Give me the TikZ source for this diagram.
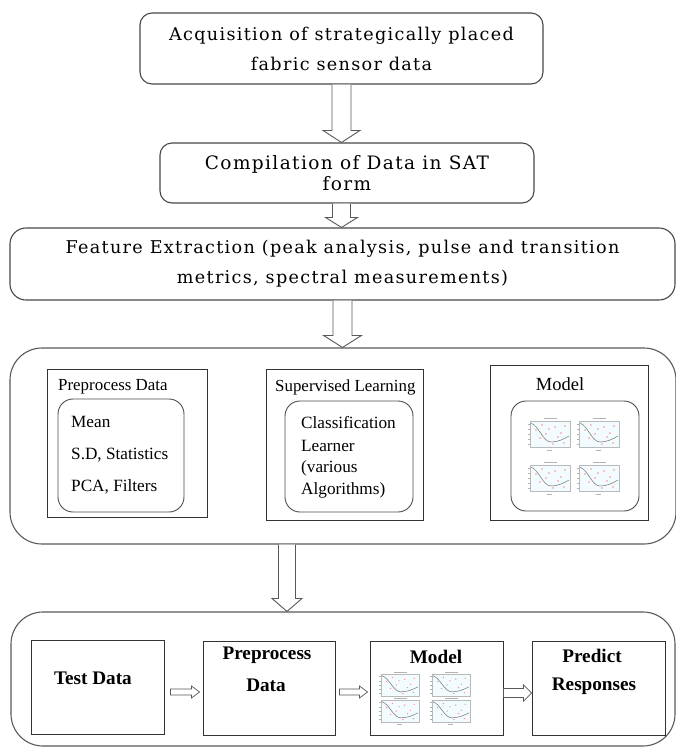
\documentclass[tikz,border=0pt]{standalone}
\usepackage{fontspec}
\setmainfont{Liberation Serif}
\newfontfamily\dvs[LetterSpace=7.5]{DejaVu Serif}
\usetikzlibrary{calc}
\tikzset{
  frame/.style={draw=black!72, line width=1.1pt},
  rbox/.style={frame, rounded corners=12pt, inner sep=0pt},
  bigbox/.style={draw=black!65, line width=1.1pt, rounded corners=32pt, inner sep=0pt},
  sbox/.style={draw=black!80, line width=0.9pt, inner sep=0pt},
  ibox/.style={draw=black!70, line width=0.9pt, rounded corners=15pt, inner sep=0pt},
  toptext/.style={font=\dvs\fontsize{17.6}{30}\selectfont, align=center},
  lbl/.style={font=\fontsize{16.9}{19}\selectfont, inner sep=0pt},
  item/.style={font=\fontsize{17.2}{20}\selectfont, inner sep=0pt, anchor=west},
  btext/.style={font=\bfseries\fontsize{19.2}{22}\selectfont, inner sep=0pt},
  arr/.style={draw=black!65, line width=0.9pt, fill=white, line join=miter},
  varrow/.style n args={3}{to path={let \p1=(\tikztostart),\p2=(\tikztotarget) in
    (\x1-#1,\y1) -- (\x1-#1,\y2+#3) -- (\x1-#2,\y2+#3) -- (\x1,\y2) -- (\x1+#2,\y2+#3) -- (\x1+#1,\y2+#3) -- (\x1+#1,\y1)}},
  harrow/.style n args={3}{to path={let \p1=(\tikztostart),\p2=(\tikztotarget) in
    (\x1,\y1+#1) -- (\x2-#3,\y1+#1) -- (\x2-#3,\y1+#2) -- (\x2,\y1) -- (\x2-#3,\y1-#2) -- (\x2-#3,\y1-#1) -- (\x1,\y1-#1) -- cycle}},
  miniplot/.pic={
    \fill[cyan!5] (0,0) rectangle (40,26);
    \draw[gray!55, line width=0.4pt] (0,0) rectangle (40,26);
    \draw[gray!60, line width=0.7pt] (14,-2.5) -- (27,-2.5);
    \foreach \t in {3,8,13,18,23} \draw[gray!60, line width=0.3pt] (-2,\t) -- (0,\t);
    \draw[gray!60, line width=0.6pt] (17,29) -- (22,29);
    \foreach \p in {(6,9),(12,4),(19,8),(25,6),(31,12),(35,5),(10,17),(28,16),(34,22),(16,13),(23,23)} \fill[red!45] \p circle (0.8);
    \draw[black!55, line width=0.5pt] (1,2) .. controls (9,5) and (13,21) .. (21,21) .. controls (28,21) and (34,18) .. (39,15);
  }
}
\begin{document}
\begin{tikzpicture}[x=1pt,y=-1pt]
\useasboundingbox (0,0) rectangle (676,748);

% top chain
\node[rbox, toptext, minimum width=403, minimum height=71] (b1) at (341.5,48.5)
  {Acquisition of strategically placed\\fabric sensor data};
\node[rbox, font=\dvs\fontsize{18.5}{21}\selectfont, align=center, minimum width=374, minimum height=60] (b2) at (347,173)
  {Compilation of Data in SAT\\form};
\node[rbox, toptext, rounded corners=16pt, minimum width=665, minimum height=72] (b3) at (342.5,264)
  {Feature Extraction (peak analysis, pulse and transition\\metrics, spectral measurements)};

% training block
\node[bigbox, minimum width=666, minimum height=196] (big) at (343,446) {};
\node[sbox, minimum width=160, minimum height=148] (ppo) at (127,443) {};
\node[ibox, minimum width=126, minimum height=113] (ppi) at (121,455.5) {};
\node[lbl, anchor=west] (ppl) at (58,387) {Preprocess Data};
\node[item] (m1) at (71,422) {Mean};
\node[item] (m2) at (71,455) {S.D, Statistics};
\node[item] (m3) at (71,487) {PCA, Filters};

\node[sbox, minimum width=157, minimum height=151] (slo) at (344.5,444.5) {};
\node[ibox, minimum width=128, minimum height=111] (sli) at (349,456.5) {};
\node[lbl, anchor=west] (sll) at (275,387) {Supervised Learning};
\node[item] (c1) at (301,423) {Classification};
\node[item] (c2) at (301,446) {Learner};
\node[item] (c3) at (301,468) {(various};
\node[item] (c4) at (301,490) {Algorithms)};

\node[sbox, minimum width=158, minimum height=155] (mdo) at (569,442.5) {};
\node[ibox, minimum width=128, minimum height=110] (mdi) at (575,456) {};
\node[lbl, font=\fontsize{18.5}{21}\selectfont] (mdl) at (560,384) {Model};
\pic at (530,421) {miniplot};
\pic at (579,421) {miniplot};
\pic at (530,465) {miniplot};
\pic at (579,465) {miniplot};

% testing block
\node[bigbox, minimum width=664, minimum height=134] (bot) at (343,679) {};
\node[sbox, minimum width=133, minimum height=94] (tst) at (97.5,687) {};
\node[btext] (tstl) at (93,678) {Test Data};
\node[sbox, minimum width=132, minimum height=94] (pp) at (269,688) {};
\node[btext] (ppl1) at (267,655) {Preprocess};
\node[btext] (ppl2) at (266,685) {Data};
\node[sbox, minimum width=133, minimum height=94] (mdb) at (436.5,688) {};
\node[btext] (mdbl) at (436,657) {Model};
\node[sbox, minimum width=133, minimum height=94] (pr) at (598.5,688) {};
\node[btext] (prl1) at (592,656) {Predict};
\node[btext] (prl2) at (594,686) {Responses};
\pic[xscale=0.95, yscale=0.85] at (381,674) {miniplot};
\pic[xscale=0.95, yscale=0.85] at (432,674) {miniplot};
\pic[xscale=0.95, yscale=0.85] at (381,700) {miniplot};
\pic[xscale=0.95, yscale=0.85] at (432,700) {miniplot};

% block arrows
\draw[arr, varrow={9.5pt}{18.5pt}{12pt}] (b1.south) to (b1.south |- b2.north);
\draw[arr, varrow={9pt}{16pt}{10pt}] (b1.south |- b2.south) to (b1.south |- b3.north);
\draw[arr, varrow={9.5pt}{19pt}{12pt}] (b3.south) to (b3.south |- big.north);
\draw[arr, varrow={8.5pt}{15pt}{13pt}] ([xshift=-56pt]big.south) to ([xshift=-56pt]big.south |- bot.north);
\draw[arr, line width=0.7pt, harrow={3pt}{6pt}{8pt}] ([xshift=6pt,yshift=-5pt]tst.east) to ([xshift=-3pt,yshift=-5pt]pp.west);
\draw[arr, line width=0.7pt, harrow={3pt}{6pt}{8pt}] ([xshift=4pt,yshift=-4pt]pp.east) to ([xshift=-2pt,yshift=-4pt]mdb.west);
\draw[arr, line width=0.7pt, harrow={4.5pt}{8pt}{8pt}] ([yshift=-5pt]mdb.east) to ([yshift=-5pt]pr.west);
\end{tikzpicture}
\end{document}
